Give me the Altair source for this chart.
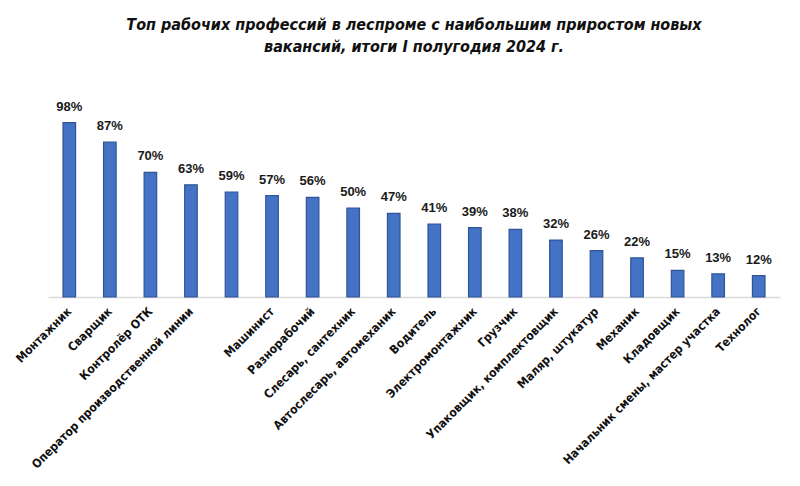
import altair as alt
import pandas as pd

professions = [
    "Монтажник", "Сварщик", "Контролёр ОТК", "Оператор производственной линии",
    "", "Машинист", "Разнорабочий", "Слесарь, сантехник", "Автослесарь, автомеханик",
    "Водитель", "Электромонтажник", "Грузчик", "Упаковщик, комплектовщик",
    "Маляр, штукатур", "Механик", "Кладовщик", "Начальник смены, мастер участка",
    "Технолог",
]
growth = [98, 87, 70, 63, 59, 57, 56, 50, 47, 41, 39, 38, 32, 26, 22, 15, 13, 12]

df = pd.DataFrame({
    "idx": list(range(len(growth))),
    "name": professions,
    "value": growth,
    "label": [f"{v}%" for v in growth],
})

names_js = "[" + ",".join("'" + n + "'" for n in professions) + "]"
NARROW = "'DejaVu Sans Condensed', 'Liberation Sans', sans-serif"

x = alt.X(
    "idx:O",
    title=None,
    sort=None,
    scale=alt.Scale(paddingInner=0.69, paddingOuter=0.37),
    axis=alt.Axis(
        labelExpr=f"{names_js}[datum.value]",
        labelAngle=-45,
        labelAlign="right",
        labelBaseline="middle",
        labelPadding=12,
        labelFont=NARROW,
        labelFontWeight="bold",
        labelFontSize=12,
        labelColor="#111111",
        labelLimit=400,
        ticks=False,
        domainColor="#d9d9d9",
        domainWidth=1.5,
        grid=False,
    ),
)
y = alt.Y("value:Q", title=None, scale=alt.Scale(domain=[0, 100]), axis=None)

bars = alt.Chart(df).mark_bar(
    color="#4472c4", stroke="#2f5597", strokeWidth=1.2
).encode(x=x, y=y)

labels = alt.Chart(df).mark_text(
    dy=-16, font="Liberation Sans", fontWeight="bold", fontSize=13, color="#1a1a1a"
).encode(x=x, y=y, text="label:N")

chart = (
    (bars + labels)
    .properties(
        width=732,
        height=178,
        autosize=alt.AutoSizeParams(type="none"),
        padding={"left": 48, "top": 119, "right": 20, "bottom": 189},
        background="white",
        title=alt.TitleParams(
            text=["Топ рабочих профессий в леспроме с наибольшим приростом новых",
                  "вакансий, итоги I полугодия 2024 г."],
            font=NARROW,
            fontSize=16,
            fontWeight="bold",
            fontStyle="italic",
            color="#111111",
            anchor="middle",
            frame="group",
            offset=46,
            lineHeight=22,
        ),
    )
    .configure_view(strokeWidth=0, stroke="transparent")
)

chart.save("out.html", embed_options={"renderer": "svg", "actions": False})
